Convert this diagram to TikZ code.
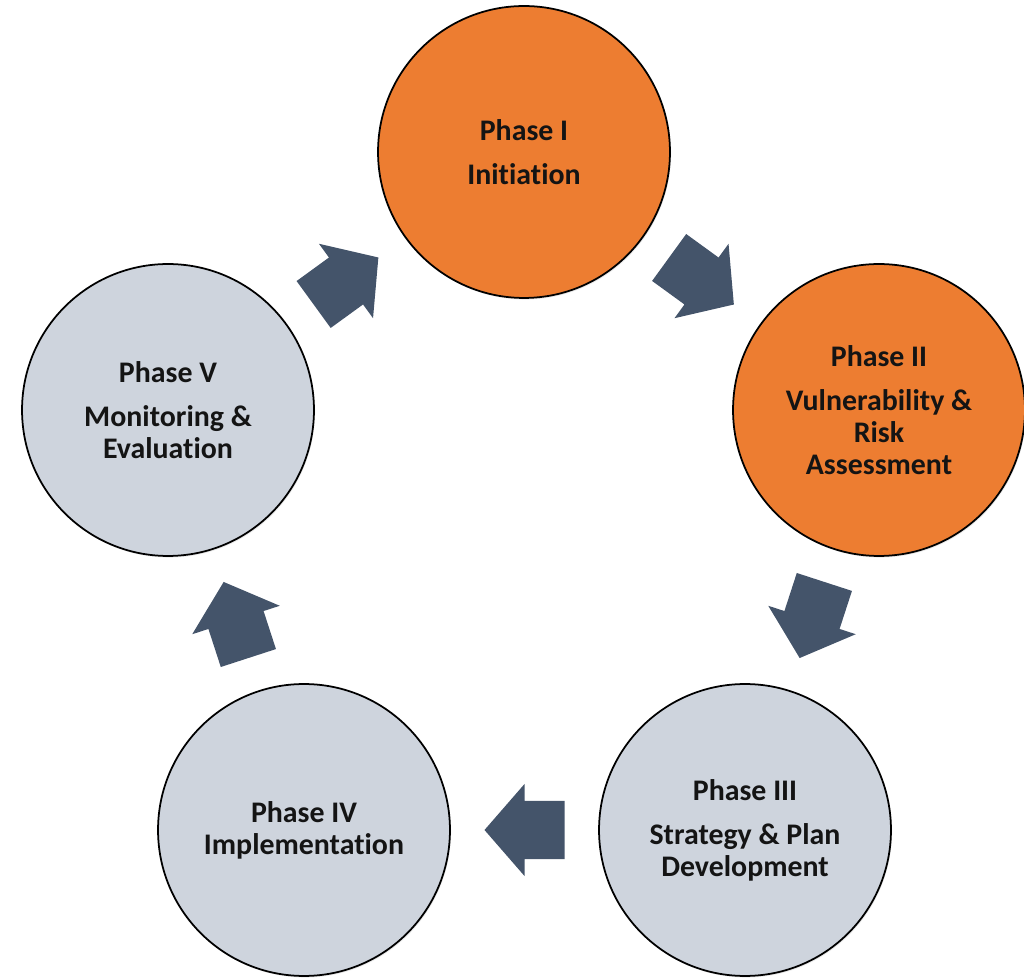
\documentclass[tikz,border=0pt]{standalone}
\usepackage{fontspec}
\usepackage{tikz}
\usepackage{xcolor}
\usetikzlibrary{shapes,positioning,calc,shadows}
\setmainfont{Carlito}[Ligatures=CommonOff]

\definecolor{phaseorange}{HTML}{ED7D31}
\definecolor{phasegray}{HTML}{CED4DD}
\definecolor{arrowslate}{HTML}{44546A}

\begin{document}
\begin{tikzpicture}[
          x=0.02cm, y=0.02cm,
          phase/.style={circle, draw=black, line width=1pt, minimum size=5.84cm, inner sep=0pt, align=center,
            font=\fontsize{17}{18.2}\selectfont\bfseries, text=black!92,
            drop shadow={opacity=0.18, shadow xshift=0.6pt, shadow yshift=-0.9pt}},
          active/.style={phase, fill=phaseorange},
          pending/.style={phase, fill=phasegray},
          blockarrow/.style={fill=arrowslate}
        ]
          \useasboundingbox (0,0) rectangle (1024,977);

          % Phases
          \node[active]  (p1) at (524,825) {Phase I\\[6.8pt] Initiation};
          \node[active]  (p2) at (879,567) {Phase II\\[6.8pt] Vulnerability \&\\ Risk\\ Assessment};
          \node[pending] (p3) at (745,147) {Phase III\\[6.8pt] Strategy \& Plan\\ Development};
          \node[pending] (p4) at (304,147) {Phase IV\\ Implementation};
          \node[pending] (p5) at (168,567) {Phase V\\[6.8pt] Monitoring \&\\ Evaluation};

          % Cycle arrows
          \foreach \from/\to/\ang in {p5/p1/36, p1/p2/-36, p2/p3/-108, p3/p4/180, p4/p5/108}
            \fill[blockarrow, shift={($(\from)!0.5!(\to)$)}, rotate=\ang]
              (-40,-29) -- (0,-29) -- (0,-46) -- (40,0) -- (0,46) -- (0,29) -- (-40,29) -- cycle;

        \end{tikzpicture}
\end{document}
